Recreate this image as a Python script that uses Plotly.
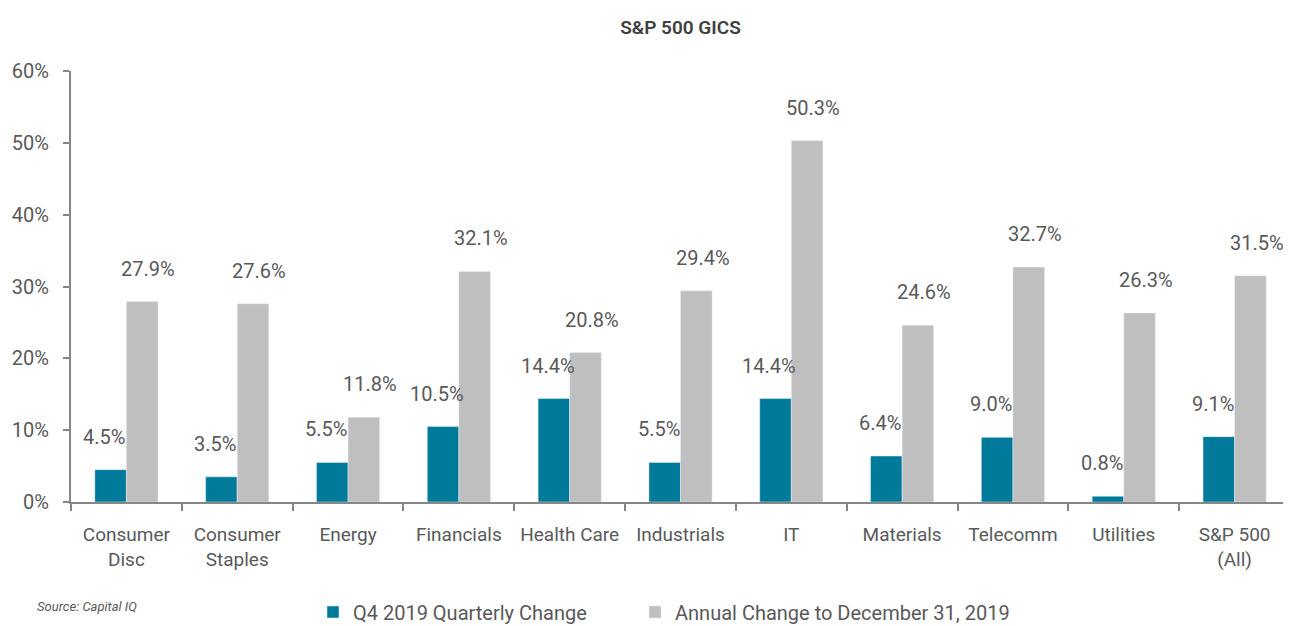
import plotly.graph_objects as go

categories = ["Consumer<br>Disc", "Consumer<br>Staples", "Energy", "Financials", "Health Care",
              "Industrials", "IT", "Materials", "Telecomm", "Utilities", "S&P 500<br>(All)"]
q4_change = [4.5, 3.5, 5.5, 10.5, 14.4, 5.5, 14.4, 6.4, 9.0, 0.8, 9.1]
annual_change = [27.9, 27.6, 11.8, 32.1, 20.8, 29.4, 50.3, 24.6, 32.7, 26.3, 31.5]
y_ticks = [0, 10, 20, 30, 40, 50, 60]
y_tick_labels = ["0%", "10%", "20%", "30%", "40%", "50%", "60%"]

series_names = ["Q4 2019 Quarterly Change", "Annual Change to December 31, 2019"]
TEAL = "#007A9A"
GRAY = "#BFBFBF"
TXT = "#595959"
FONT = "Roboto, Lato, sans-serif"

fig = go.Figure()
fig.add_trace(go.Bar(x=categories, y=q4_change, name=series_names[0], marker_color=TEAL,
                     legend="legend"))
fig.add_trace(go.Bar(x=categories, y=annual_change, name=series_names[1], marker_color=GRAY,
                     legend="legend2"))

annotations = []
for cat, v in zip(categories, q4_change):
    annotations.append(dict(x=cat, y=v, xref="x", yref="y", text=f"{v:.1f}%", showarrow=False,
                            xshift=-22, yshift=19, yanchor="bottom",
                            font=dict(family=FONT, size=20, color=TXT)))
for cat, v in zip(categories, annual_change):
    annotations.append(dict(x=cat, y=v, xref="x", yref="y", text=f"{v:.1f}%", showarrow=False,
                            xshift=22, yshift=19, yanchor="bottom",
                            font=dict(family=FONT, size=20, color=TXT)))
annotations.append(dict(x=-0.0295, y=-0.2436, xref="paper", yref="paper", xanchor="left",
                        yanchor="middle", showarrow=False, text="<i>Source: Capital IQ</i>",
                        font=dict(family=FONT, size=13, color=TXT)))

legend_common = dict(orientation="h", yanchor="middle", y=-0.2552, xanchor="left",
                     font=dict(family=FONT, size=20, color=TXT), bgcolor="rgba(0,0,0,0)")

fig.update_layout(
    width=1283, height=618,
    margin=dict(l=63, r=1, t=63, b=124, autoexpand=False),
    paper_bgcolor="white", plot_bgcolor="white",
    barmode="group", bargap=0.43, bargroupgap=0,
    title=dict(text="S&P 500 GICS", x=0.5, xref="paper", xanchor="center",
               y=1 - 19 / 618, yref="container", yanchor="middle",
               font=dict(family=FONT, size=19, color="#404040", weight=600)),
    font=dict(family=FONT, size=20, color=TXT),
    showlegend=True,
    legend=dict(x=0.1985, **legend_common),
    legend2=dict(x=0.4627, **legend_common),
    annotations=annotations,
)
fig.update_xaxes(showline=True, linecolor="#868686", linewidth=2, ticks="outside",
                 tickson="boundaries", ticklen=7, tickcolor="#868686", tickwidth=2,
                 showgrid=False, tickangle=0, ticklabelstandoff=14, automargin=False,
                 tickfont=dict(family=FONT, size=19, color=TXT))
fig.update_yaxes(range=[0, 60], tickvals=y_ticks, ticktext=y_tick_labels, showline=True,
                 linecolor="#868686", linewidth=2, ticks="outside", ticklen=6,
                 tickcolor="#868686", tickwidth=2, showgrid=False, zeroline=False,
                 ticklabelstandoff=10, automargin=False,
                 tickfont=dict(family=FONT, size=20, color=TXT))

fig.write_html("out.html")
